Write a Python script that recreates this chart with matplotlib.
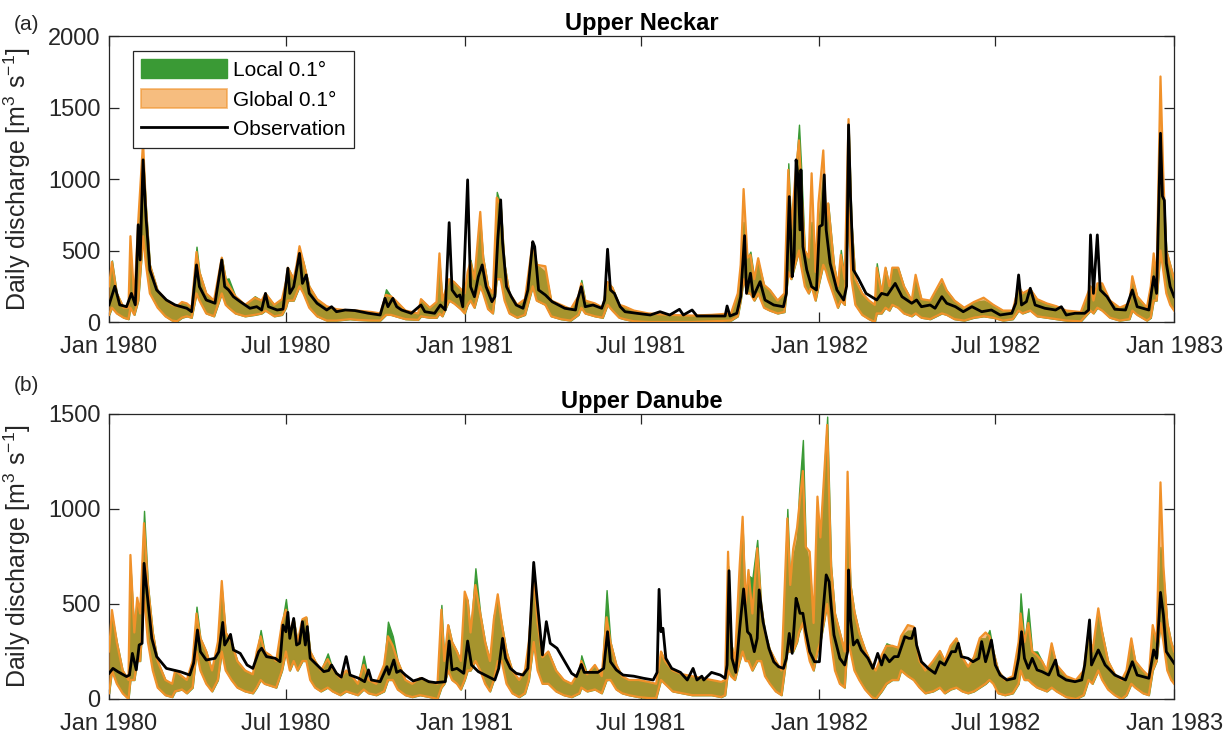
import matplotlib.pyplot as plt
import matplotlib.dates as mdates
from matplotlib.patches import Patch
from matplotlib.lines import Line2D
import numpy as np

plt.rcParams['font.family'] = ['Liberation Sans', 'DejaVu Sans']
plt.rcParams['mathtext.fontset'] = 'custom'
plt.rcParams['mathtext.rm'] = 'Liberation Sans'
plt.rcParams['mathtext.it'] = 'Liberation Sans:italic'

START = np.datetime64('1980-01-01')
END = np.datetime64('1983-01-01')

# ---- Upper Neckar: observed discharge (day since 1 Jan 1980, m3/s)
neckar_obs_day = [0, 6, 11, 18, 23, 27, 30, 32, 35, 38, 42, 49, 59, 68, 80, 85, 90, 93, 100, 109,
                  116, 119, 123, 128, 135, 145, 152, 157, 161, 164, 173, 179, 184, 186, 190, 193, 196, 199, 203, 206,
                  214, 224, 229, 234, 243, 253, 267, 279, 284, 287, 292, 296, 301, 311, 321, 325, 335, 341, 346, 350,
                  353, 358, 361, 364, 369, 372, 376, 380, 384, 388, 394, 397, 400, 403, 405, 409, 414, 419, 426, 431,
                  436, 438, 442, 449, 456, 469, 480, 482, 486, 490, 498, 507, 510, 513, 516, 520, 526, 531, 543, 557,
                  567, 577, 587, 591, 600, 605, 618, 634, 636, 639, 646, 650, 654, 656, 660, 663, 670, 675, 684, 694,
                  697, 700, 703, 705, 707, 709, 711, 712, 714, 718, 723, 728, 731, 734, 736, 738, 742, 749, 756, 759,
                  761, 763, 766, 771, 779, 790, 795, 801, 809, 816, 826, 831, 836, 845, 850, 857, 862, 871, 879, 888,
                  898, 908, 917, 929, 933, 936, 939, 944, 948, 953, 963, 974, 980, 985, 994, 1004, 1008, 1010, 1013, 1017,
                  1020, 1027, 1035, 1046, 1053, 1058, 1070, 1075, 1078, 1082, 1084, 1086, 1088, 1092, 1096]
neckar_obs = [120, 250, 120, 107, 200, 120, 680, 434, 1134, 737, 364, 224, 154, 119, 96, 72, 399, 247, 154, 131,
              434, 247, 224, 177, 142, 96, 107, 84, 200, 107, 84, 90, 376, 200, 247, 364, 480, 270, 329, 200,
              131, 84, 107, 72, 84, 80, 61, 49, 166, 107, 166, 107, 84, 61, 119, 72, 61, 119, 84, 695,
              224, 177, 189, 107, 994, 247, 177, 317, 399, 247, 142, 177, 574, 854, 551, 247, 177, 119, 96, 224,
              562, 527, 224, 189, 142, 96, 84, 154, 247, 107, 119, 96, 154, 509, 224, 200, 107, 72, 61, 49,
              72, 49, 89, 49, 84, 42, 42, 42, 112, 42, 61, 177, 604, 200, 341, 177, 282, 154, 119, 107,
              200, 877, 317, 457, 1134, 1017, 644, 1064, 527, 364, 247, 224, 667, 679, 1029, 644, 411, 224, 154, 250,
              1379, 877, 364, 306, 200, 154, 200, 189, 270, 177, 131, 154, 107, 119, 96, 177, 131, 107, 72, 107,
              72, 84, 49, 61, 131, 329, 119, 142, 236, 119, 96, 84, 107, 49, 61, 61, 84, 609, 200, 609,
              224, 177, 89, 84, 224, 107, 84, 317, 200, 1320, 880, 850, 411, 247, 177]

# ---- Upper Neckar: ensemble ranges (shared lower bound, separate upper bounds)
neckar_band_day = [0, 3, 8, 15, 20, 22, 26, 30, 35, 38, 42, 50, 58, 65, 70, 75, 80, 85, 90, 93,
                   100, 108, 116, 120, 123, 130, 140, 150, 157, 161, 170, 178, 182, 184, 190, 193, 196, 200, 206, 214,
                   224, 234, 248, 255, 270, 279, 285, 290, 295, 305, 318, 321, 330, 337, 340, 343, 350, 355, 362, 366,
                   369, 372, 376, 382, 385, 390, 395, 399, 403, 407, 412, 420, 428, 436, 440, 449, 455, 465, 475, 483,
                   486, 490, 500, 508, 513, 518, 525, 530, 540, 555, 575, 600, 620, 640, 647, 650, 653, 657, 660, 664,
                   668, 674, 680, 688, 695, 699, 702, 706, 710, 712, 716, 720, 723, 727, 730, 735, 738, 740, 746, 750,
                   753, 757, 761, 764, 768, 775, 782, 788, 790, 795, 799, 803, 806, 812, 818, 826, 830, 836, 845, 857,
                   862, 870, 880, 890, 900, 910, 920, 930, 936, 940, 948, 955, 965, 975, 985, 1000, 1010, 1013, 1017, 1022,
                   1030, 1040, 1050, 1053, 1058, 1068, 1072, 1075, 1078, 1082, 1085, 1088, 1092, 1096]
neckar_global_hi = [250, 420, 200, 100, 100, 600, 150, 700, 1260, 800, 400, 220, 160, 120, 110, 140, 130, 100, 490, 350,
                    200, 150, 450, 300, 260, 180, 120, 170, 150, 200, 120, 160, 280, 380, 300, 400, 530, 420, 250, 160,
                    110, 90, 80, 80, 70, 60, 190, 180, 150, 80, 60, 160, 100, 140, 480, 150, 300, 280, 230, 200,
                    350, 420, 300, 770, 450, 250, 200, 870, 820, 400, 200, 120, 160, 560, 400, 390, 150, 120, 90, 180,
                    270, 150, 130, 100, 280, 240, 120, 110, 80, 60, 50, 45, 50, 60, 200, 400, 930, 450, 470, 300,
                    446, 260, 224, 150, 200, 1064, 650, 1000, 1270, 1000, 500, 450, 1040, 350, 830, 1200, 700, 830, 400, 250,
                    470, 300, 1419, 700, 300, 200, 150, 120, 380, 200, 380, 250, 380, 380, 250, 150, 330, 160, 150, 300,
                    220, 150, 100, 140, 170, 120, 80, 80, 250, 200, 230, 160, 130, 110, 80, 70, 250, 150, 270, 270,
                    150, 100, 130, 320, 180, 100, 250, 480, 300, 1717, 1000, 500, 400, 300]
neckar_local_hi = [250, 430, 200, 100, 100, 450, 150, 700, 1150, 800, 400, 220, 160, 120, 110, 140, 130, 100, 527, 350,
                   200, 150, 450, 300, 305, 180, 120, 180, 150, 200, 120, 160, 300, 380, 300, 400, 500, 420, 250, 160,
                   110, 90, 80, 80, 70, 60, 229, 180, 150, 80, 60, 160, 100, 140, 420, 150, 300, 280, 230, 200,
                   350, 434, 300, 700, 450, 250, 200, 910, 820, 400, 200, 120, 160, 560, 400, 350, 150, 120, 90, 180,
                   294, 150, 130, 100, 280, 240, 120, 110, 80, 60, 50, 45, 50, 60, 200, 400, 700, 450, 492, 300,
                   420, 260, 224, 150, 200, 1110, 650, 1000, 1380, 1110, 500, 450, 700, 350, 700, 1050, 700, 830, 400, 250,
                   504, 300, 1380, 700, 300, 200, 150, 120, 411, 200, 380, 250, 380, 380, 250, 150, 300, 160, 150, 280,
                   220, 150, 100, 140, 150, 120, 80, 80, 250, 200, 230, 160, 130, 110, 80, 70, 250, 150, 270, 250,
                   150, 100, 130, 300, 180, 100, 250, 420, 300, 950, 900, 500, 400, 300]
neckar_lo = [50, 100, 60, 30, 20, 100, 50, 150, 600, 400, 200, 100, 40, 10, 5, 30, 40, 30, 200, 150,
             60, 40, 200, 120, 100, 60, 40, 50, 60, 80, 40, 50, 100, 150, 150, 200, 250, 200, 100, 40,
             10, 10, 20, 15, 10, 10, 50, 50, 40, 20, 15, 40, 30, 30, 60, 40, 150, 130, 90, 60,
             120, 150, 100, 250, 200, 90, 60, 300, 300, 150, 60, 30, 50, 250, 150, 120, 40, 20, 10, 50,
             100, 60, 40, 30, 120, 80, 30, 20, 5, 0, 0, 0, 5, 10, 40, 150, 300, 200, 200, 150,
             200, 100, 80, 60, 70, 350, 300, 400, 500, 400, 250, 200, 250, 150, 250, 400, 350, 300, 180, 100,
             150, 120, 800, 300, 120, 50, 20, 0, 60, 60, 100, 80, 120, 100, 60, 40, 60, 30, 20, 60,
             50, 20, 10, 30, 40, 30, 10, 20, 80, 60, 80, 40, 30, 20, 10, 5, 80, 60, 100, 80,
             30, 10, 20, 80, 50, 10, 30, 150, 150, 500, 350, 200, 120, 80]

# ---- Upper Danube: observed discharge
danube_obs_day = [0, 4, 9, 18, 21, 24, 28, 31, 34, 36, 39, 44, 49, 59, 73, 83, 87, 91, 94, 100,
                  109, 113, 117, 119, 123, 125, 128, 135, 142, 148, 154, 157, 162, 171, 176, 179, 182, 184, 186, 190,
                  193, 196, 199, 202, 204, 207, 214, 221, 226, 229, 234, 239, 244, 248, 257, 263, 267, 270, 279, 286,
                  288, 293, 296, 300, 305, 313, 322, 329, 336, 346, 350, 353, 358, 365, 369, 373, 380, 390, 397, 401,
                  405, 408, 413, 419, 426, 431, 437, 441, 446, 450, 454, 461, 469, 476, 481, 486, 489, 497, 503, 509,
                  513, 516, 522, 529, 540, 550, 560, 564, 566, 568, 570, 573, 579, 588, 595, 601, 605, 610, 612, 620,
                  629, 634, 636, 638, 641, 645, 649, 653, 657, 660, 664, 667, 669, 673, 679, 684, 689, 694, 697, 700,
                  703, 707, 709, 711, 714, 717, 721, 726, 731, 735, 738, 741, 743, 746, 752, 757, 760, 761, 763, 766,
                  770, 774, 781, 786, 791, 795, 798, 803, 808, 812, 819, 823, 826, 829, 831, 836, 843, 850, 855, 860,
                  867, 871, 874, 877, 884, 889, 895, 898, 902, 905, 908, 912, 917, 924, 932, 936, 939, 942, 946, 950,
                  955, 960, 967, 974, 977, 985, 994, 1001, 1004, 1009, 1011, 1018, 1025, 1035, 1046, 1053, 1058, 1070, 1075, 1078,
                  1082, 1085, 1088, 1096]
danube_obs = [135, 161, 144, 118, 126, 240, 153, 284, 293, 714, 565, 319, 223, 161, 144, 126, 188, 363, 249, 205,
              214, 249, 403, 284, 319, 340, 258, 240, 179, 161, 249, 267, 223, 214, 196, 389, 354, 456, 319, 424,
              284, 293, 407, 284, 381, 214, 179, 144, 150, 179, 135, 115, 223, 126, 109, 91, 153, 100, 91, 170,
              130, 205, 140, 150, 126, 95, 109, 91, 86, 91, 305, 153, 161, 135, 305, 179, 144, 118, 100, 161,
              319, 214, 161, 135, 126, 161, 719, 495, 232, 407, 293, 267, 196, 135, 118, 182, 140, 140, 140, 161,
              354, 196, 153, 126, 120, 109, 100, 140, 577, 354, 372, 214, 161, 140, 100, 161, 100, 120, 100, 140,
              126, 109, 179, 675, 214, 140, 372, 579, 354, 337, 249, 319, 574, 407, 267, 196, 170, 161, 214, 345,
              240, 530, 495, 451, 451, 354, 249, 196, 196, 477, 653, 617, 495, 337, 214, 179, 249, 679, 424, 284,
              310, 258, 214, 161, 240, 179, 232, 196, 223, 223, 328, 319, 319, 372, 284, 196, 161, 135, 196, 179,
              249, 249, 293, 223, 214, 196, 214, 302, 196, 249, 310, 179, 126, 100, 109, 214, 354, 214, 161, 214,
              153, 144, 126, 205, 126, 100, 91, 100, 179, 416, 179, 258, 179, 126, 100, 196, 126, 109, 258, 214,
              561, 442, 249, 188]

# ---- Upper Danube: ensemble ranges
danube_band_day = [0, 3, 8, 14, 20, 22, 26, 29, 32, 36, 40, 45, 50, 58, 65, 68, 75, 80, 86, 90,
                   94, 100, 106, 112, 116, 120, 126, 132, 140, 148, 152, 156, 160, 166, 172, 178, 182, 186, 190, 194,
                   199, 203, 207, 212, 218, 225, 230, 238, 244, 250, 256, 262, 267, 275, 283, 287, 292, 297, 305, 312,
                   320, 330, 338, 342, 345, 349, 353, 358, 362, 366, 369, 372, 377, 382, 387, 392, 396, 400, 404, 409,
                   415, 422, 428, 432, 437, 441, 446, 452, 460, 468, 476, 484, 486, 492, 500, 507, 512, 516, 522, 528,
                   535, 545, 555, 563, 568, 572, 580, 590, 600, 610, 620, 630, 634, 637, 640, 644, 649, 652, 655, 658,
                   662, 667, 671, 675, 680, 686, 692, 698, 701, 704, 708, 710, 714, 717, 721, 725, 729, 732, 739, 743,
                   747, 752, 757, 760, 763, 767, 772, 778, 785, 789, 795, 800, 806, 812, 815, 822, 828, 834, 840, 848,
                   855, 860, 866, 872, 878, 884, 890, 896, 902, 906, 910, 915, 922, 930, 936, 938, 942, 946, 950, 955,
                   960, 965, 970, 975, 985, 995, 1003, 1008, 1012, 1018, 1022, 1028, 1035, 1042, 1047, 1052, 1056, 1064, 1070, 1074,
                   1078, 1082, 1085, 1089, 1093, 1096]
danube_global_hi = [250, 468, 300, 150, 100, 758, 350, 533, 450, 925, 600, 350, 200, 100, 80, 150, 120, 100, 200, 450,
                    320, 250, 150, 300, 621, 350, 300, 200, 150, 130, 250, 330, 250, 230, 200, 400, 470, 350, 420, 300,
                    420, 430, 250, 200, 150, 210, 160, 110, 150, 120, 80, 180, 100, 80, 180, 330, 280, 200, 100, 80,
                    110, 90, 80, 470, 200, 389, 300, 250, 200, 565, 520, 350, 600, 450, 300, 200, 420, 551, 400, 250,
                    150, 100, 150, 300, 650, 400, 220, 250, 150, 100, 80, 150, 200, 130, 179, 120, 430, 300, 180, 120,
                    100, 100, 90, 80, 250, 200, 150, 130, 120, 110, 100, 90, 100, 775, 300, 200, 705, 959, 500, 679,
                    450, 793, 500, 350, 260, 200, 150, 950, 600, 790, 900, 1000, 1200, 800, 775, 400, 1065, 850, 1442, 700,
                    450, 350, 250, 1196, 600, 460, 350, 260, 180, 150, 230, 280, 280, 270, 330, 389, 380, 200, 150, 200,
                    253, 200, 280, 319, 220, 170, 220, 320, 350, 330, 250, 150, 100, 120, 300, 450, 300, 400, 250, 230,
                    200, 150, 293, 180, 120, 100, 150, 350, 250, 477, 350, 200, 130, 100, 150, 319, 200, 150, 120, 389,
                    300, 1140, 700, 400, 300, 250]
danube_local_hi = [250, 440, 300, 150, 100, 700, 350, 500, 450, 990, 600, 350, 200, 100, 80, 150, 120, 100, 200, 486,
                   320, 250, 150, 300, 580, 350, 300, 200, 150, 130, 250, 363, 250, 230, 200, 400, 526, 350, 420, 300,
                   420, 430, 250, 200, 150, 240, 160, 110, 150, 120, 80, 228, 100, 80, 180, 407, 330, 200, 100, 80,
                   110, 90, 80, 495, 200, 389, 300, 250, 200, 540, 520, 350, 688, 450, 300, 200, 442, 520, 400, 250,
                   150, 100, 150, 300, 650, 400, 220, 250, 150, 100, 80, 150, 230, 130, 170, 120, 573, 300, 180, 120,
                   100, 100, 90, 80, 250, 200, 150, 130, 120, 110, 100, 90, 100, 700, 300, 200, 650, 900, 500, 650,
                   635, 837, 500, 350, 260, 200, 150, 1000, 600, 750, 850, 1082, 1363, 800, 700, 400, 950, 850, 1486, 700,
                   450, 350, 250, 1000, 600, 460, 350, 260, 180, 150, 230, 293, 280, 270, 330, 360, 360, 200, 150, 200,
                   253, 200, 280, 319, 220, 170, 220, 320, 319, 363, 250, 150, 100, 120, 300, 556, 300, 477, 250, 250,
                   200, 150, 280, 180, 120, 100, 150, 350, 250, 450, 350, 200, 130, 100, 150, 300, 200, 150, 120, 360,
                   300, 800, 650, 400, 300, 250]
danube_lo = [30, 150, 80, 30, 0, 100, 100, 200, 200, 550, 300, 150, 60, 20, 10, 40, 50, 30, 60, 250,
             150, 80, 40, 100, 250, 150, 100, 60, 40, 30, 60, 100, 80, 70, 60, 150, 250, 150, 200, 150,
             200, 200, 100, 60, 40, 60, 40, 20, 40, 30, 20, 50, 30, 20, 40, 100, 100, 50, 20, 10,
             20, 10, 0, 60, 80, 150, 100, 80, 50, 100, 150, 150, 200, 150, 80, 40, 100, 200, 200, 80,
             30, 10, 30, 100, 300, 150, 80, 80, 40, 20, 10, 30, 60, 40, 50, 30, 100, 100, 50, 30,
             20, 10, 5, 5, 100, 80, 40, 30, 20, 20, 20, 10, 20, 150, 120, 100, 200, 250, 200, 200,
             150, 200, 200, 120, 80, 40, 20, 250, 250, 250, 300, 350, 400, 300, 200, 150, 250, 300, 500, 300,
             150, 80, 60, 300, 250, 150, 100, 50, 10, 0, 40, 80, 100, 100, 150, 120, 100, 60, 30, 40,
             60, 30, 50, 60, 40, 30, 40, 60, 80, 100, 80, 30, 20, 30, 80, 150, 100, 100, 80, 60,
             50, 40, 60, 40, 10, 0, 20, 100, 80, 150, 100, 50, 20, 0, 20, 80, 60, 30, 20, 150,
             200, 400, 300, 150, 100, 80]

GREEN = '#3a9a35'
ORANGE = '#f0912a'
AXCOL = '#262626'


def to_dates(days):
    return START + np.array(days).astype('timedelta64[D]')


def draw_panel(ax, title, band_day, loc_hi, glob_hi, lo, obs_day, obs, ymax):
    bd = to_dates(band_day)
    ax.fill_between(bd, lo, loc_hi, facecolor=GREEN, edgecolor=GREEN, linewidth=1.0, zorder=2)
    ax.fill_between(bd, lo, glob_hi, facecolor=ORANGE, alpha=0.6, edgecolor='none', zorder=3)
    ax.plot(bd, glob_hi, color=ORANGE, lw=1.6, zorder=3)
    ax.plot(bd, lo, color=ORANGE, lw=1.6, zorder=3)
    ax.plot(to_dates(obs_day), obs, color='black', lw=2.0, zorder=4)

    ax.set_xlim(START, END)
    ax.set_ylim(0, ymax)
    ax.set_yticks(np.arange(0, ymax + 1, 500))
    ax.xaxis.set_major_locator(mdates.MonthLocator(bymonth=[1, 7]))
    ax.xaxis.set_major_formatter(mdates.DateFormatter('%b %Y'))
    ax.tick_params(direction='in', length=7, width=0.9, color=AXCOL, labelsize=17,
                   labelcolor=AXCOL, top=True, right=True)
    ax.tick_params(axis='x', pad=10)
    ax.tick_params(axis='y', pad=6)
    for sp in ax.spines.values():
        sp.set_color(AXCOL)
        sp.set_linewidth(0.9)
    ax.set_title(title, fontsize=17, fontweight='bold', pad=4)
    ax.set_ylabel(r'Daily discharge [m$^3$ s$^{-1}$]', fontsize=18, color=AXCOL)
    ax.yaxis.set_label_coords(-0.071, 0.5)


fig = plt.figure(figsize=(12.28, 7.35), dpi=100)
ax1 = fig.add_axes([0.0888, 0.5619, 0.8673, 0.3891])
ax2 = fig.add_axes([0.0888, 0.0490, 0.8673, 0.3878])

draw_panel(ax1, 'Upper Neckar', neckar_band_day, neckar_local_hi, neckar_global_hi, neckar_lo,
           neckar_obs_day, neckar_obs, 2000)
draw_panel(ax2, 'Upper Danube', danube_band_day, danube_local_hi, danube_global_hi, danube_lo,
           danube_obs_day, danube_obs, 1500)

# legend: solid green, translucent orange with outline, black line
handles = [Patch(facecolor=GREEN, edgecolor=GREEN),
           Patch(facecolor=ORANGE, alpha=0.6, edgecolor=ORANGE, linewidth=1.3),
           Line2D([], [], color='black', lw=2.0)]
leg = ax1.legend(handles, ['Local 0.1°', 'Global 0.1°', 'Observation'],
                 loc='upper left', bbox_to_anchor=(0.0225, 0.948), borderaxespad=0,
                 fontsize=15, handlelength=4.1, handleheight=1.0, handletextpad=0.3,
                 labelspacing=0.45, borderpad=0.4, frameon=True, fancybox=False)
leg.get_frame().set_edgecolor(AXCOL)
leg.get_frame().set_linewidth(0.9)
leg.get_frame().set_alpha(1)

fig.text(0.011, 0.966, '(a)', fontsize=15, color=AXCOL, va='center')
fig.text(0.011, 0.475, '(b)', fontsize=15, color=AXCOL, va='center')

fig.savefig('out.png', dpi=100)
